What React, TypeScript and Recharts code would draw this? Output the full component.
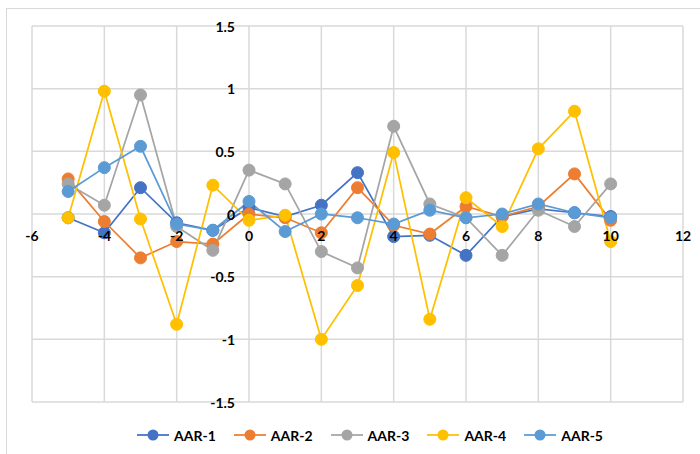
import { CartesianGrid, Line, LineChart, XAxis, YAxis } from 'recharts'

const X_VALUES = [-5, -4, -3, -2, -1, 0, 1, 2, 3, 4, 5, 6, 7, 8, 9, 10]
const AAR_1 = [-0.03, -0.15, 0.21, -0.07, -0.13, 0.05, -0.02, 0.07, 0.33, -0.18, -0.17, -0.33, -0.02, 0.04, 0.01, -0.02]
const AAR_2 = [0.28, -0.06, -0.35, -0.22, -0.24, 0.0, -0.03, -0.15, 0.21, -0.09, -0.16, 0.06, -0.02, 0.06, 0.32, -0.05]
const AAR_3 = [0.24, 0.07, 0.95, -0.1, -0.29, 0.35, 0.24, -0.3, -0.43, 0.7, 0.08, -0.03, -0.33, 0.03, -0.1, 0.24]
const AAR_4 = [-0.03, 0.98, -0.04, -0.88, 0.23, -0.05, -0.01, -1.0, -0.57, 0.49, -0.84, 0.13, -0.1, 0.52, 0.82, -0.22]
const AAR_5 = [0.18, 0.37, 0.54, -0.08, -0.13, 0.1, -0.14, 0.0, -0.03, -0.08, 0.03, -0.03, 0.0, 0.08, 0.01, -0.03]

const X_TICKS = [-6, -4, -2, 0, 2, 4, 6, 8, 10, 12]
const Y_TICKS = [-1.5, -1, -0.5, 0, 0.5, 1, 1.5]

const SERIES = [
  { key: 'aar1', name: 'AAR-1', values: AAR_1, color: '#4472C4' },
  { key: 'aar2', name: 'AAR-2', values: AAR_2, color: '#ED7D31' },
  { key: 'aar3', name: 'AAR-3', values: AAR_3, color: '#A5A5A5' },
  { key: 'aar4', name: 'AAR-4', values: AAR_4, color: '#FFC000' },
  { key: 'aar5', name: 'AAR-5', values: AAR_5, color: '#5B9BD5' },
]

const rows = X_VALUES.map((x, i) => {
  const row: Record<string, number> = { x }
  SERIES.forEach((s) => {
    row[s.key] = s.values[i]
  })
  return row
})

// plot area geometry (axes cross at 0,0 like the Excel chart)
const W = 700
const H = 454
const M = { top: 26, right: 17, bottom: 51, left: 31 }
const PLOT_W = W - M.left - M.right - 1
const PLOT_H = H - M.top - M.bottom - 1
const ZERO_X = M.left + (PLOT_W * 6) / 18
const ZERO_Y = M.top + PLOT_H / 2

const FONT = 'Lato, "Open Sans", sans-serif'

function XTick({ x, payload }: any) {
  return (
    <text x={x} y={ZERO_Y + 21} textAnchor="middle" dominantBaseline="central" fontSize={14} fontWeight={700} fill="#000" fontFamily={FONT}>
      {payload.value}
    </text>
  )
}

function YTick({ y, payload }: any) {
  return (
    <text x={ZERO_X - 13} y={y} textAnchor="end" dominantBaseline="central" fontSize={14} fontWeight={700} fill="#000" fontFamily={FONT}>
      {payload.value}
    </text>
  )
}

export default function App() {
  return (
    <div style={{ position: 'absolute', left: 0, top: 0, width: W, height: H, overflow: 'hidden', background: '#fff' }}>
      <div style={{ position: 'absolute', left: 6, top: 8, width: W, height: H, border: '1px solid #d9d9d9' }} />
      <LineChart width={W} height={H} data={rows} margin={M}>
        <CartesianGrid stroke="#d9d9d9" strokeWidth={1.5} />
        <XAxis
          type="number"
          dataKey="x"
          domain={[-6, 12]}
          ticks={X_TICKS}
          interval={0}
          height={1}
          axisLine={false}
          tickLine={false}
          tick={<XTick />}
        />
        <YAxis
          type="number"
          domain={[-1.5, 1.5]}
          ticks={Y_TICKS}
          interval={0}
          width={1}
          axisLine={false}
          tickLine={false}
          tick={<YTick />}
        />
        {SERIES.map((s) => (
          <Line
            key={s.key}
            dataKey={s.key}
            name={s.name}
            stroke={s.color}
            strokeWidth={1.75}
            dot={{ r: 6, fill: s.color, stroke: s.color, strokeWidth: 1 }}
            activeDot={false}
            isAnimationActive={false}
          />
        ))}
      </LineChart>
      <div style={{ position: 'absolute', left: 137, top: 426, display: 'flex', alignItems: 'center', fontFamily: FONT, fontWeight: 700, fontSize: 14, color: '#000' }}>
        {SERIES.map((s) => (
          <div key={s.key} style={{ display: 'flex', alignItems: 'center', marginRight: 18 }}>
            <svg width={32} height={18}>
              <line x1={0} y1={9} x2={32} y2={9} stroke={s.color} strokeWidth={1.75} />
              <circle cx={16} cy={9} r={5.5} fill={s.color} />
            </svg>
            <span style={{ marginLeft: 5 }}>{s.name}</span>
          </div>
        ))}
      </div>
    </div>
  )
}
